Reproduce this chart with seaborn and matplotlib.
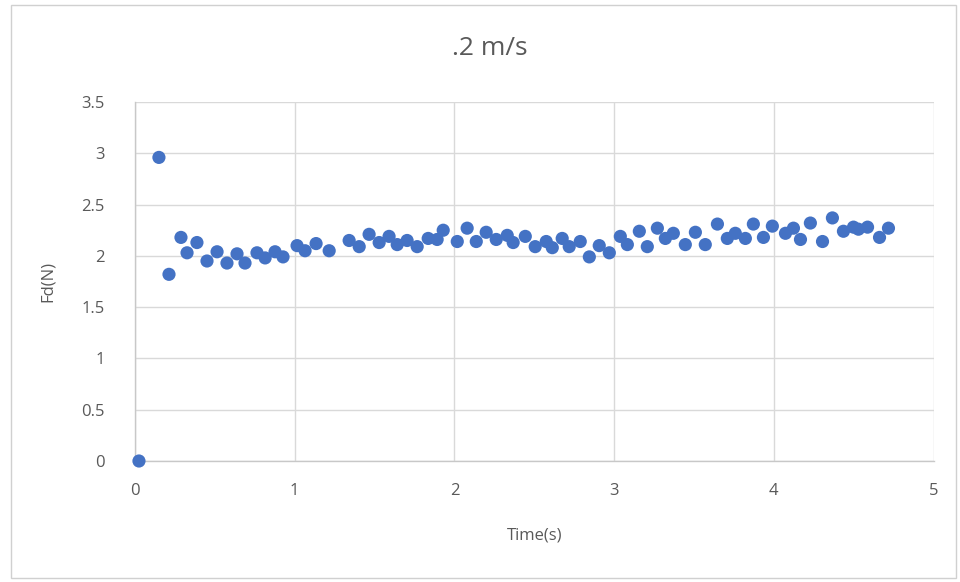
import matplotlib
matplotlib.use("Agg")
import matplotlib.pyplot as plt
import numpy as np
import pandas as pd
import seaborn as sns
from matplotlib.patches import Rectangle

# values
time_s = [0.025, 0.150, 0.213, 0.288, 0.326, 0.388, 0.451, 0.514, 0.576, 0.639,
          0.689, 0.764, 0.815, 0.877, 0.927, 1.015, 1.065, 1.134, 1.216, 1.341,
          1.404, 1.466, 1.529, 1.591, 1.642, 1.704, 1.767, 1.836, 1.892, 1.930,
          2.018, 2.080, 2.137, 2.199, 2.262, 2.331, 2.368, 2.444, 2.506, 2.575,
          2.613, 2.675, 2.719, 2.788, 2.845, 2.907, 2.970, 3.039, 3.083, 3.158,
          3.208, 3.271, 3.321, 3.371, 3.446, 3.509, 3.571, 3.647, 3.709, 3.759,
          3.822, 3.872, 3.935, 3.991, 4.073, 4.123, 4.167, 4.229, 4.305, 4.367,
          4.436, 4.499, 4.530, 4.587, 4.662, 4.718]
fd_n = [0.00, 2.96, 1.82, 2.18, 2.03, 2.13, 1.95, 2.04, 1.93, 2.02,
        1.93, 2.03, 1.98, 2.04, 1.99, 2.10, 2.05, 2.12, 2.05, 2.15,
        2.09, 2.21, 2.13, 2.19, 2.11, 2.15, 2.09, 2.17, 2.16, 2.25,
        2.14, 2.27, 2.14, 2.23, 2.16, 2.20, 2.13, 2.19, 2.09, 2.14,
        2.08, 2.17, 2.09, 2.14, 1.99, 2.10, 2.03, 2.19, 2.11, 2.24,
        2.09, 2.27, 2.17, 2.22, 2.11, 2.23, 2.11, 2.31, 2.17, 2.22,
        2.17, 2.31, 2.18, 2.29, 2.22, 2.27, 2.16, 2.32, 2.14, 2.37,
        2.24, 2.28, 2.26, 2.28, 2.18, 2.27]

df = pd.DataFrame({"Time(s)": time_s, "Fd(N)": fd_n})

sns.set_style("white")
plt.rcParams['font.family'] = ['Open Sans', 'DejaVu Sans']
txt = "#595959"
grid = "#d9d9d9"

fig = plt.figure(figsize=(9.6, 5.82), dpi=100)
ax = fig.add_axes([0.1406, 0.2079, 0.8318, 0.6168])

sns.scatterplot(data=df, x="Time(s)", y="Fd(N)", ax=ax, color="#4472C4",
                s=90, edgecolor="none", zorder=3, clip_on=False)

ax.set_xlim(0, 5)
ax.set_ylim(0, 3.5)
ax.set_xticks(np.arange(0, 5.1, 1))
ax.set_yticks(np.arange(0, 3.51, 0.5))
ax.set_yticklabels(["0", "0.5", "1", "1.5", "2", "2.5", "3", "3.5"])
ax.grid(True, color=grid, linewidth=1)
ax.set_axisbelow(True)
for s in ["top", "right"]:
    ax.spines[s].set_visible(False)
for s in ["left", "bottom"]:
    ax.spines[s].set_color("#c8c8c8")
    ax.spines[s].set_linewidth(1)
ax.tick_params(axis="x", length=0, labelsize=12, labelcolor=txt, pad=16)
ax.tick_params(axis="y", length=0, labelsize=12, labelcolor=txt, pad=22)

ax.set_xlabel("Time(s)", fontsize=12, color=txt, labelpad=20)
ax.set_ylabel("Fd(N)", fontsize=12, color=txt, labelpad=18)

fig.text(0.51, 0.917, ".2 m/s", ha="center", va="center", fontsize=19, color=txt)

# chart border
fig.patches.append(Rectangle((0.011, 0.007), 0.985, 0.985, transform=fig.transFigure,
                             fill=False, edgecolor="#d0d0d0", linewidth=1))

fig.savefig("out.png", dpi=100)
